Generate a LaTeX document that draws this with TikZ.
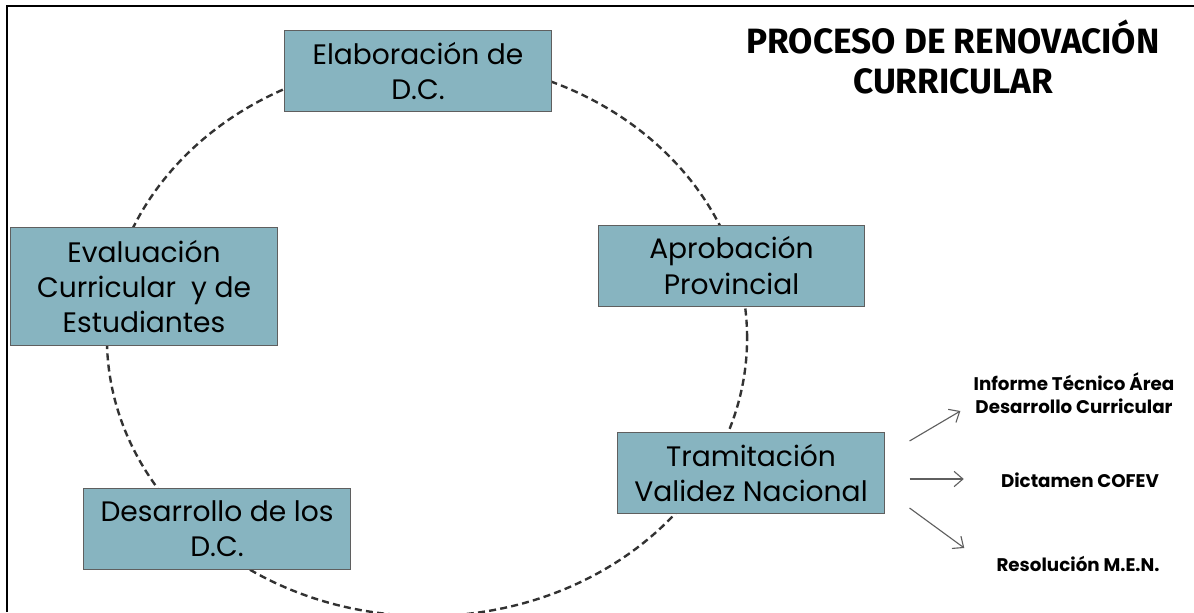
\documentclass[tikz,border=0pt]{standalone}
\usepackage{fontspec}
\setmainfont{Poppins}
\newfontfamily\titlefont{Fira Sans}
\usetikzlibrary{positioning, arrows.meta, calc}

\definecolor{cajaazul}{RGB}{135,180,192}
\definecolor{bordegris}{RGB}{95,95,95}
\definecolor{trazo}{RGB}{50,50,50}

\begin{document}
\begin{tikzpicture}[
    x=0.025cm, y=-0.025cm,
    every node/.style={align=center},
    etapa/.style={draw=bordegris, fill=cajaazul, line width=0.7pt,
        minimum width=6.65cm, minimum height=2.025cm, inner sep=0pt,
        font=\fontsize{20}{25}\selectfont},
    salida/.style={inner sep=0pt, font=\bfseries\fontsize{13}{16}\selectfont},
    flecha/.style={draw=bordegris, line width=0.8pt,
        -{Straight Barb[length=2.2mm,width=3.8mm]}}
]
    \useasboundingbox (0,0) rectangle (1194,612);

    % marco
    \draw[line width=2pt] (7,612) -- (7,6) -- (1194,6);

    % ciclo
    \draw[trazo, line width=1.7pt, dash pattern=on 5pt off 3pt]
        (427,338) ellipse [x radius=8cm, y radius=6.95cm];

    % etapas
    \node[etapa] (elab) at (418,71) {Elaboración de\\D.C.};
    \node[etapa] (aprob) at (731.5,265.5) {Aprobación\\Provincial};
    \node[etapa] (tram) at (751,473) {Tramitación\\Validez Nacional};
    \node[etapa] (desa) at (217,529) {Desarrollo de los\\D.C.};
    \node[etapa, minimum height=2.95cm] (eval) at (144,286.5)
        {Evaluación\\Curricular~ y de\\Estudiantes};

    % titulo
    \node[font=\titlefont\bfseries\fontsize{25}{28}\selectfont] (titulo) at (953,57)
        {PROCESO DE RENOVACIÓN\\CURRICULAR};

    % salidas de la tramitacion
    \node[salida] (informe) at (1074,393) {Informe Técnico Área\\Desarrollo Curricular};
    \node[salida] (dictamen) at (1080,480) {Dictamen COFEV};
    \node[salida] (resol) at (1078,564) {Resolución M.E.N.};

    \draw[flecha] ([shift={(25,-32)}]tram.east) -- ([shift={(-13,18)}]informe.west);
    \draw[flecha] ([shift={(25,6)}]tram.east) -- ([shift={(-37,-1)}]dictamen.west);
    \draw[flecha] ([shift={(25,35)}]tram.east) -- ([shift={(-32,-16)}]resol.west);
\end{tikzpicture}
\end{document}
